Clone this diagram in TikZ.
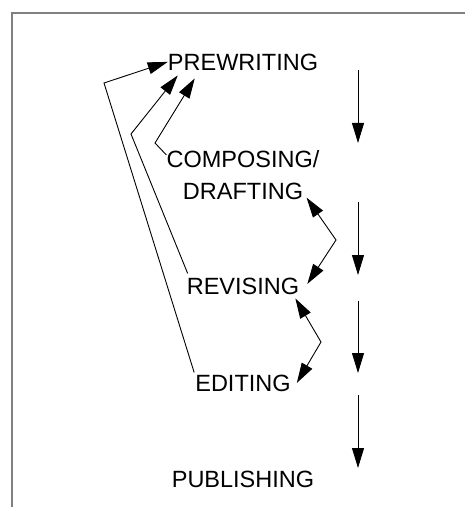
\documentclass[tikz,border=0pt]{standalone}
\usepackage{fontspec}
\setmainfont{Liberation Sans}
\usepackage{tikz}
\usetikzlibrary{arrows.meta,calc}
\definecolor{framegrey}{HTML}{808080}
\tikzset{
  stage/.style={font=\fontsize{23.5bp}{32bp}\selectfont, inner sep=0pt,
                align=center},
  flowarrow/.style={-{Triangle[length=20bp,width=12bp]}, line width=0.9bp},
  backarrow/.style={flowarrow},
  twoway/.style={{Triangle[length=20bp,width=12bp]}-{Triangle[length=20bp,width=12bp]},
                 line width=0.9bp},
}

\begin{document}
\begin{tikzpicture}[x=1bp, y=-1bp]
  \useasboundingbox (0,0) rectangle (465,507);
  % --- frame (only top and left edges show) ---
  \draw[framegrey, line width=2bp] (12,507) -- (12,13) -- (465,13);

  % --- the five stages ---
  \node[stage, anchor=base]  (pre)  at (243,71)  {PREWRITING};
  \node[stage, anchor=north] (comp) at (243,150) {COMPOSING/\\DRAFTING};
  \node[stage, anchor=base]  (rev)  at (243,294) {REVISING};
  \node[stage, anchor=base]  (edit) at (243,391) {EDITING};
  \node[stage, anchor=base]  (pub)  at (243,487) {PUBLISHING};

  % --- main downward flow ---
  \foreach \i/\a/\b in {1/70/143, 2/202/275, 3/301/373, 4/395/468} {
    \coordinate (top\i) at (358,\a);
    \coordinate (tip\i) at (358,\b);
    \draw[flowarrow] (top\i) -- (tip\i);
  }

  % --- back loops to prewriting ---
  \draw[backarrow] ($(comp.north west)+(0,5)$) -- (155,143)
    -- ($(pre.south west)+(27,7)$);
  \draw[backarrow] ($(rev.north west)+(1,-4)$) -- (131,134)
    -- ($(pre.south west)+(10,4)$);
  \draw[backarrow] ($(edit.north west)+(-1,-2)$) -- (104,83)
    -- ($(pre.west)+(0,-1)$);

  % --- two-way links between neighbours ---
  \draw[twoway] ($(comp.south east)+(-13,-2)$) -- (336,240)
    -- ($(rev.east)+(8,-2)$);
  \draw[twoway] ($(rev.south east)+(-4,4)$) -- (321,342)
    -- ($(edit.east)+(6,0)$);
\end{tikzpicture}
\end{document}
